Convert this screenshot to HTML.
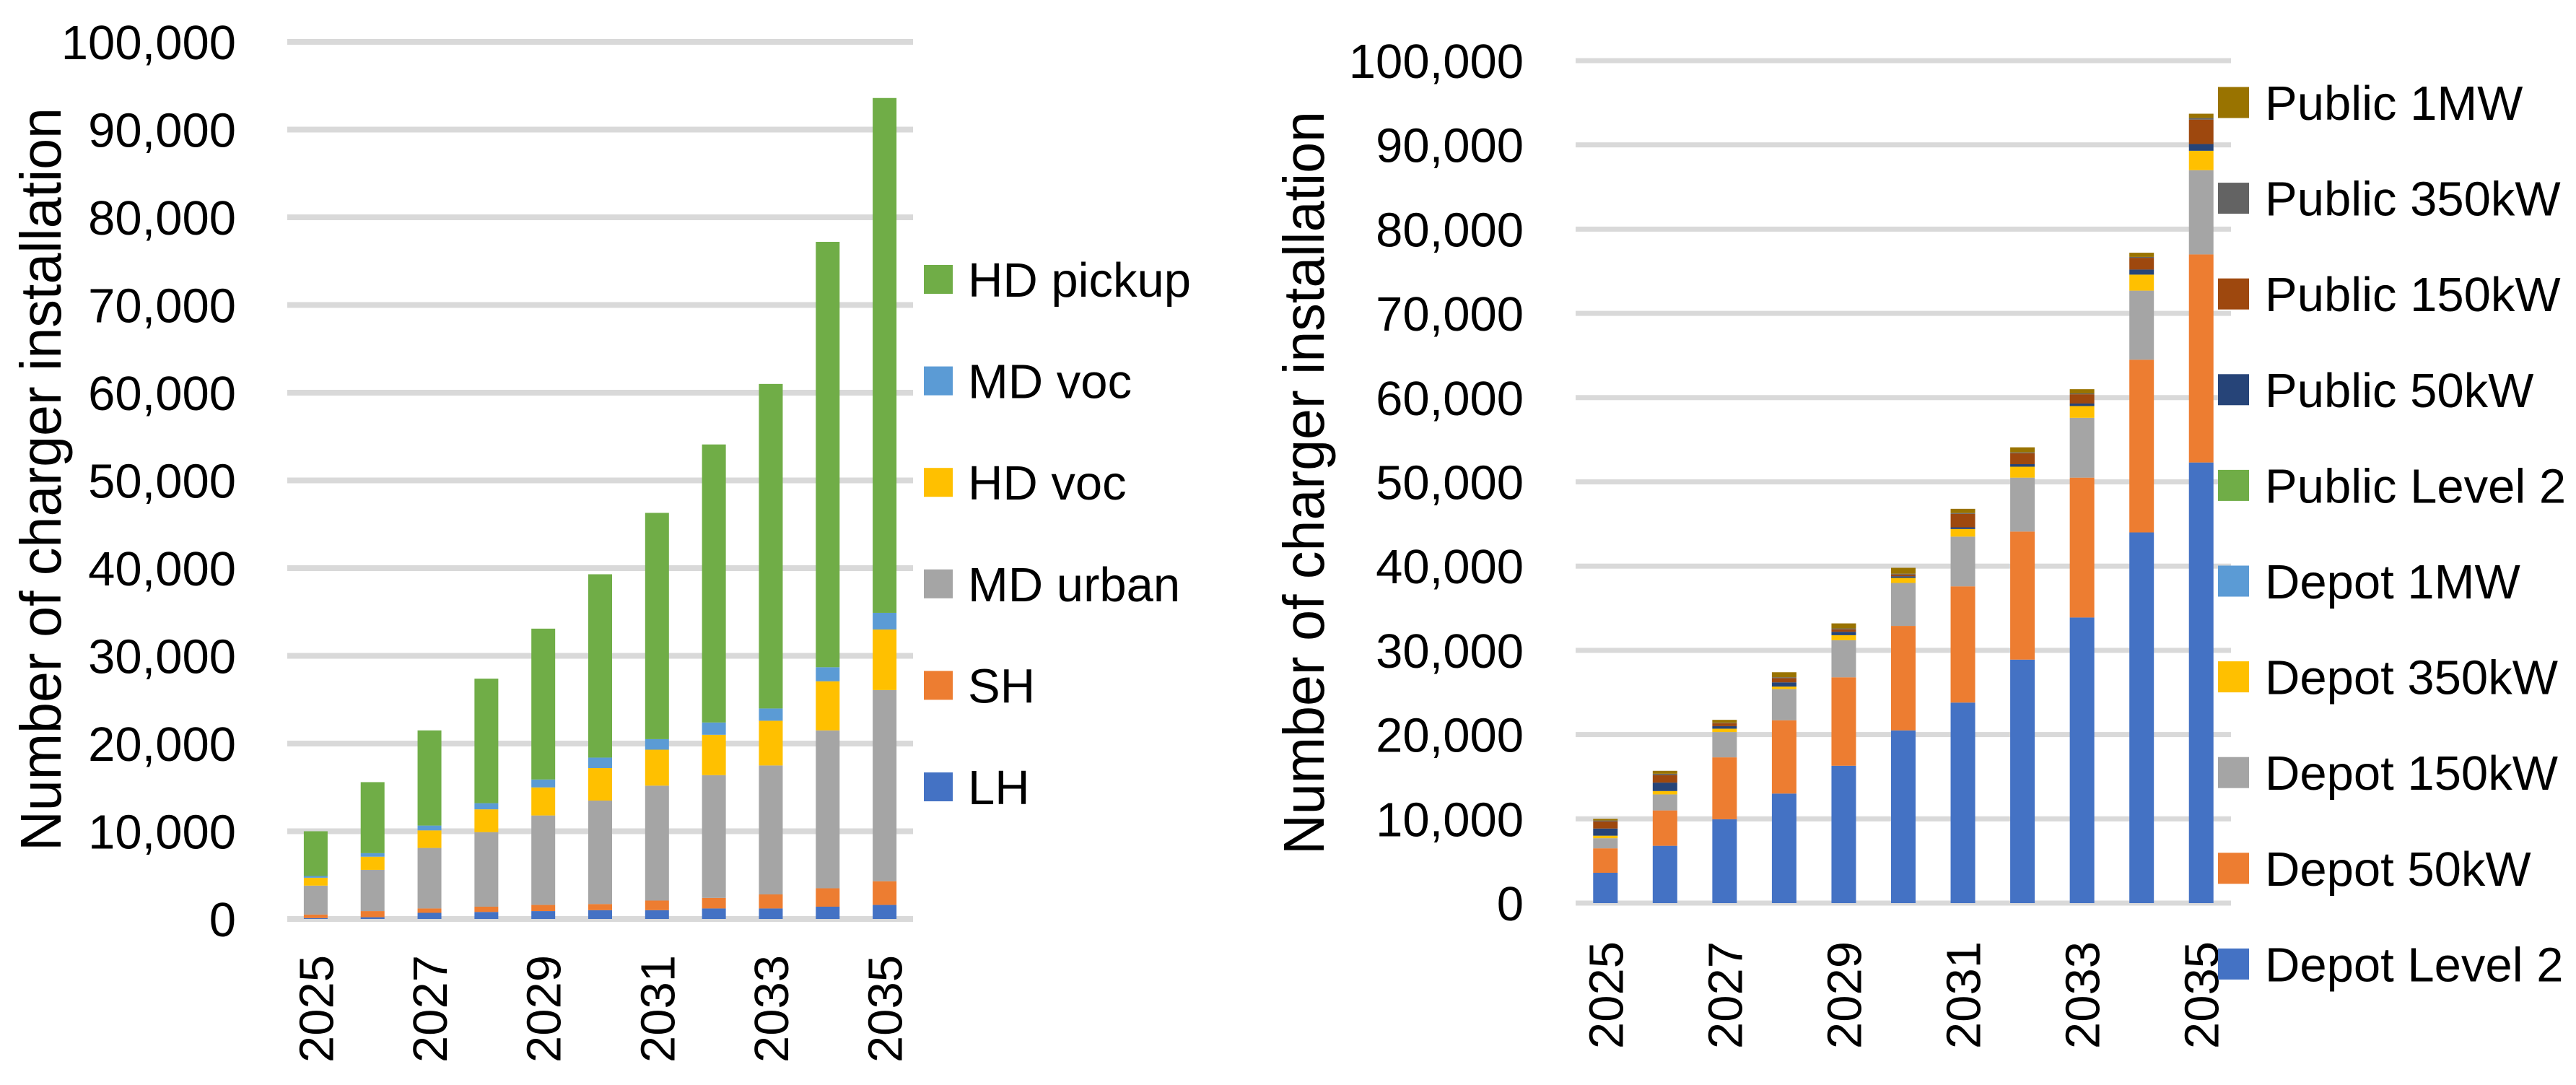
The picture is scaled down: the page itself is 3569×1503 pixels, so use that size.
<!DOCTYPE html>
<html><head><meta charset="utf-8"><style>
html,body{margin:0;padding:0;background:#fff;}
svg{display:block;font-family:"Liberation Sans",sans-serif;}
</style></head><body>
<svg id="chart" width="3569" height="1503" viewBox="0 0 3569 1503" xmlns="http://www.w3.org/2000/svg">
<rect x="0" y="0" width="3569" height="1503" fill="#fff"/>
<g id="left"></g>
<g id="right"></g>
</svg>
<script>
const years = ['2025','2026','2027','2028','2029','2030','2031','2032','2033','2034','2035'];
const yTicks = [0,10000,20000,30000,40000,50000,60000,70000,80000,90000,100000];
const yTickLabels = ['0','10,000','20,000','30,000','40,000','50,000','60,000','70,000','80,000','90,000','100,000'];
const xTickLabels = ['2025','','2027','','2029','','2031','','2033','','2035'];

const leftSeriesNames = ['LH','SH','MD urban','HD voc','MD voc','HD pickup'];
const leftLH       = [0.1,0.2,0.7,0.8,0.9,1.0,1.0,1.2,1.2,1.4,1.6];
const leftSH       = [0.4,0.7,0.5,0.6,0.7,0.7,1.1,1.2,1.6,2.1,2.7];
const leftMDurban  = [3.3,4.7,6.9,8.5,10.2,11.8,13.1,14.0,14.7,18.0,21.8];
const leftHDvoc    = [0.9,1.5,2.0,2.6,3.2,3.7,4.1,4.6,5.1,5.6,6.9];
const leftMDvoc    = [0.2,0.4,0.55,0.7,0.9,1.2,1.2,1.4,1.4,1.6,1.9];
const leftHDpickup = [5.1,8.1,10.85,14.2,17.2,20.9,25.8,31.7,37.0,48.5,58.7];

const rightSeriesNames = ['Depot Level 2','Depot 50kW','Depot 150kW','Depot 350kW','Depot 1MW','Public Level 2','Public 50kW','Public 150kW','Public 350kW','Public 1MW'];
const rDepotL2   = [3.6,6.8,9.95,13.0,16.3,20.5,23.8,28.9,33.9,44.0,52.3];
const rDepot50   = [2.9,4.2,7.35,8.7,10.5,12.4,13.8,15.2,16.6,20.5,24.7];
const rDepot150  = [1.2,1.9,3.0,3.7,4.4,5.1,5.9,6.4,7.1,8.2,10.0];
const rDepot350  = [0.3,0.4,0.4,0.3,0.6,0.6,0.9,1.3,1.4,1.9,2.3];
const rDepot1MW  = [0,0,0,0,0,0,0,0,0,0,0];
const rPublicL2  = [0,0,0,0,0,0,0,0,0,0,0];
const rPublic50  = [0.85,1.0,0.3,0.5,0.4,0.2,0.2,0.3,0.3,0.6,0.8];
const rPublic150 = [0.85,0.9,0.35,0.5,0.3,0.2,1.6,1.3,1.1,1.4,2.9];
const rPublic350 = [0.1,0.15,0.05,0.1,0.1,0.1,0.1,0.1,0.1,0.1,0.2];
const rPublic1MW = [0.2,0.35,0.35,0.6,0.6,0.7,0.5,0.6,0.5,0.5,0.5];

const NS='http://www.w3.org/2000/svg';
function mk(parent,tag,attrs,text){
  const e=document.createElementNS(NS,tag);
  for(const k in attrs) e.setAttribute(k,attrs[k]);
  if(text!==undefined) e.textContent=text;
  parent.appendChild(e); return e;
}

function drawChart(g, cfg, seriesVals, names, colors, prefix){
  const yScale=v=>cfg.y0-(v/100000)*(cfg.y0-cfg.y100);
  const catW=(cfg.x1-cfg.x0)/years.length;
  const xCenter=i=>cfg.x0+catW*(i+0.5);
  yTicks.forEach((t,i)=>{
    const gl=mk(g,'rect',{x:cfg.x0,y:yScale(t)-cfg.gw/2,width:cfg.x1-cfg.x0,height:cfg.gw,fill:'#d9d9d9'});
    
    
    const tl=mk(g,'text',{x:cfg.labelRight,y:yScale(t)+24,'text-anchor':'end','font-size':67,fill:'#000'},yTickLabels[i]);
    
    
  });
  years.forEach((yr,i)=>{
    let cum=0;
    seriesVals.forEach((arr,s)=>{
      const v=arr[i]*1000;
      if(v>0){
        const yTop=yScale(cum+v), yBot=yScale(cum);
        const r=mk(g,'rect',{x:xCenter(i)-cfg.bw/2,y:yTop,width:cfg.bw,height:yBot-yTop,fill:colors[s]});
        
        
      }
      cum+=v;
    });
    if(xTickLabels[i]){
      const cx=xCenter(i)+24, ty=cfg.y0+cfg.xLabOff;
      const t=mk(g,'text',{x:cx,y:ty,transform:'rotate(-90 '+cx+' '+ty+')','text-anchor':'end','font-size':67,fill:'#000'},xTickLabels[i]);
      
      
    }
  });
  const tx=cfg.titleX, ty=cfg.titleY;
  const title=mk(g,'text',{x:tx,y:ty,transform:'rotate(-90 '+tx+' '+ty+')','text-anchor':'middle','font-size':80,fill:'#000',textLength:1030,lengthAdjust:'spacingAndGlyphs'},'Number of charger installation');
  
  
  for(let k=0;k<names.length;k++){
    const s=names.length-1-k;
    const cy=cfg.legY+cfg.legStep*k;
    const sq=mk(g,'rect',{x:cfg.legX,y:cy-cfg.legSq/2,width:cfg.legSq,height:cfg.legSq,fill:colors[s]});
    
    
    const lt=mk(g,'text',{x:cfg.legTextX,y:cy+24,'font-size':67,fill:'#000'},names[s]);
    
    
  }
}

drawChart(document.getElementById('left'),
  {x0:398,x1:1265,y0:1273,y100:58,gw:8,bw:33,labelRight:327,xLabOff:50,titleX:84,titleY:664,
   legX:1280,legSq:40,legY:387,legStep:140.6,legTextX:1341},
  [leftLH,leftSH,leftMDurban,leftHDvoc,leftMDvoc,leftHDpickup],
  leftSeriesNames,
  ['#4472c4','#ed7d31','#a5a5a5','#ffc000','#5b9bd5','#70ad47'],'left');

drawChart(document.getElementById('right'),
  {x0:2183,x1:3091,y0:1251,y100:84,gw:7,bw:34,labelRight:2111,xLabOff:53,titleX:1834,titleY:669,
   legX:3073,legSq:43,legY:142,legStep:132.6,legTextX:3138},
  [rDepotL2,rDepot50,rDepot150,rDepot350,rDepot1MW,rPublicL2,rPublic50,rPublic150,rPublic350,rPublic1MW],
  rightSeriesNames,
  ['#4472c4','#ed7d31','#a5a5a5','#ffc000','#5b9bd5','#70ad47','#264478','#9e480e','#636363','#997300'],'right');
</script>
</body></html>
